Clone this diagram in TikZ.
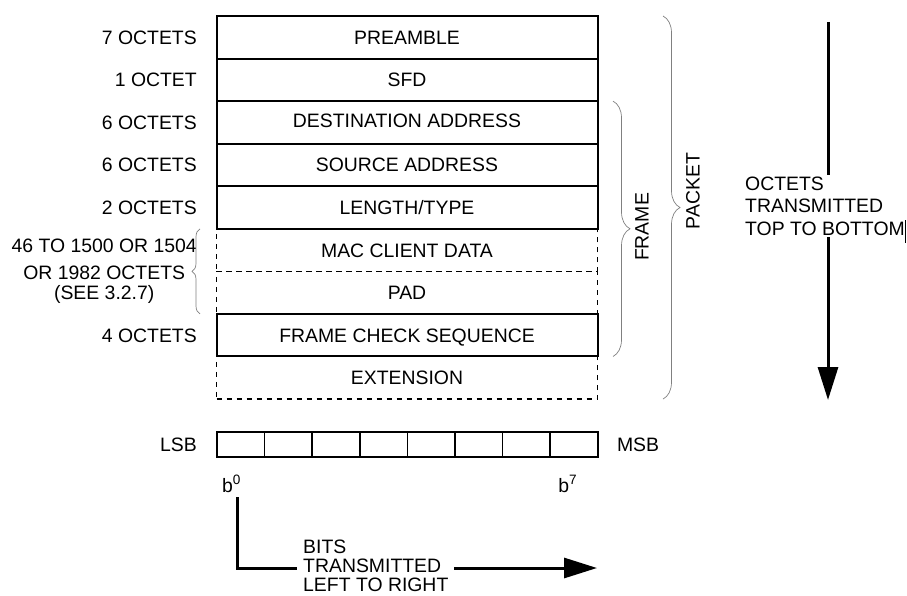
\documentclass[tikz,border=0pt]{standalone}
\usepackage{fontspec}
\setmainfont{Liberation Sans}
\usetikzlibrary{positioning, arrows.meta, decorations.pathreplacing}

\newcommand{\diagfont}{\fontsize{19.4}{22.5}\selectfont}

\tikzset{
  field/.style={draw, line width=2pt, minimum width=381pt, minimum height=42.56pt,
    inner sep=0pt, outer sep=0pt, text height=14pt, text depth=0pt},
  optfield/.style={field, line width=1.5pt, dash pattern=on 5pt off 5pt},
  octlabel/.style={inner sep=0pt, text height=14pt, text depth=0pt},
  bitcell/.style={draw, line width=1.6pt, minimum width=47.6pt, minimum height=25pt,
    inner sep=0pt, outer sep=0pt},
  brace/.style={draw=gray, line width=0.7pt, decorate, decoration={brace, amplitude=#1}},
  bigarrow/.style={line width=3pt, -{Triangle[width=20pt, length=33pt]}},
}

\begin{document}
\begin{tikzpicture}[x=1pt, y=-1pt, every node/.style={font=\diagfont}]
    \useasboundingbox (0,0) rectangle (907,596);

    % fields, top to bottom
    \node[field] (preamble) at (407,37.28) {PREAMBLE};
    \node[field, below=0pt of preamble] (sfd) {SFD};
    \node[field, below=0pt of sfd, text depth=3pt] (dest) {DESTINATION ADDRESS};
    \node[field, below=0pt of dest] (src) {SOURCE ADDRESS};
    \node[field, below=0pt of src] (lentype) {LENGTH/TYPE};
    \node[optfield, below=0pt of lentype] (data) {MAC CLIENT DATA};
    \node[optfield, below=0pt of data] (pad) {PAD};
    \node[field, below=0pt of pad] (fcs) {FRAME CHECK SEQUENCE};
    \node[optfield, below=0pt of fcs] (ext) {EXTENSION};

    % sizes
    \node[octlabel, left=19.5pt of preamble] (lpre) {7 OCTETS};
    \node[octlabel, left=19.5pt of sfd] (lsfd) {1 OCTET};
    \node[octlabel, left=19.5pt of dest] (ldest) {6 OCTETS};
    \node[octlabel, left=19.5pt of src] (lsrc) {6 OCTETS};
    \node[octlabel, left=19.5pt of lentype] (llen) {2 OCTETS};
    \node[octlabel, left=19.5pt of fcs] (lfcs) {4 OCTETS};
    \node[align=center, inner sep=0pt, anchor=north east,
        font=\fontsize{19.4}{20}\selectfont]
        (ldata) at ([xshift=-19.5pt, yshift=-9.5pt]data.north west)
        {46 TO 1500 OR 1504\\[7pt]OR 1982 OCTETS\\(SEE 3.2.7)};

    \draw[brace=8pt]
        ([xshift=-16.5pt]pad.south west) -- ([xshift=-16.5pt]data.north west);

    % frame and packet
    \draw[brace=17pt]
        ([xshift=15.5pt]dest.north east) -- ([xshift=15.5pt]fcs.south east);
    \draw[brace=17pt]
        ([xshift=65.5pt]preamble.north east) -- ([xshift=65.5pt]ext.south east);
    \node[rotate=90] (framelbl) at (642,227) {FRAME};
    \node[rotate=90] (packetlbl) at (693,191) {PACKET};

    % octet order
    \coordinate (octtop) at (828,22);
    \coordinate (octbot) at (828,400);
    \draw[bigarrow] (octtop) -- (octbot);
    \node[fill=white, align=left, anchor=west, inner xsep=0pt, inner ysep=2pt]
        (octtxt) at (745,206) {OCTETS\\TRANSMITTED\\TOP TO BOTTOM};
    \coordinate (cursortop) at (905,220);
    \coordinate (cursorbot) at (905,243);
    \draw[line width=1pt] (cursortop) -- (cursorbot);

    % bits
    \foreach \i in {0,...,7}
        \node[bitcell, anchor=west] (bit\i) at (217+47.6*\i, 444.5) {};
    \node[octlabel, left=20pt of bit0] (lsb) {LSB};
    \node[octlabel, right=19pt of bit7] (msb) {MSB};
    \node[anchor=west, inner sep=0pt] (b0)
        at ([xshift=5pt, yshift=-27pt]bit0.south west) {b\textsuperscript{0}};
    \node[anchor=west, inner sep=0pt] (b7)
        at ([xshift=8pt, yshift=-27pt]bit7.south west) {b\textsuperscript{7}};

    % bit order
    \coordinate (bitstart) at (237,497);
    \coordinate (bitend) at (597,568);
    \draw[bigarrow] (bitstart) |- (bitend);
    \node[fill=white, align=left, anchor=west, inner xsep=6pt, inner ysep=0pt,
        font=\fontsize{19.4}{19}\selectfont]
        (bitstxt) at (297,566) {BITS\\TRANSMITTED\\LEFT TO RIGHT};

\end{tikzpicture}
\end{document}
